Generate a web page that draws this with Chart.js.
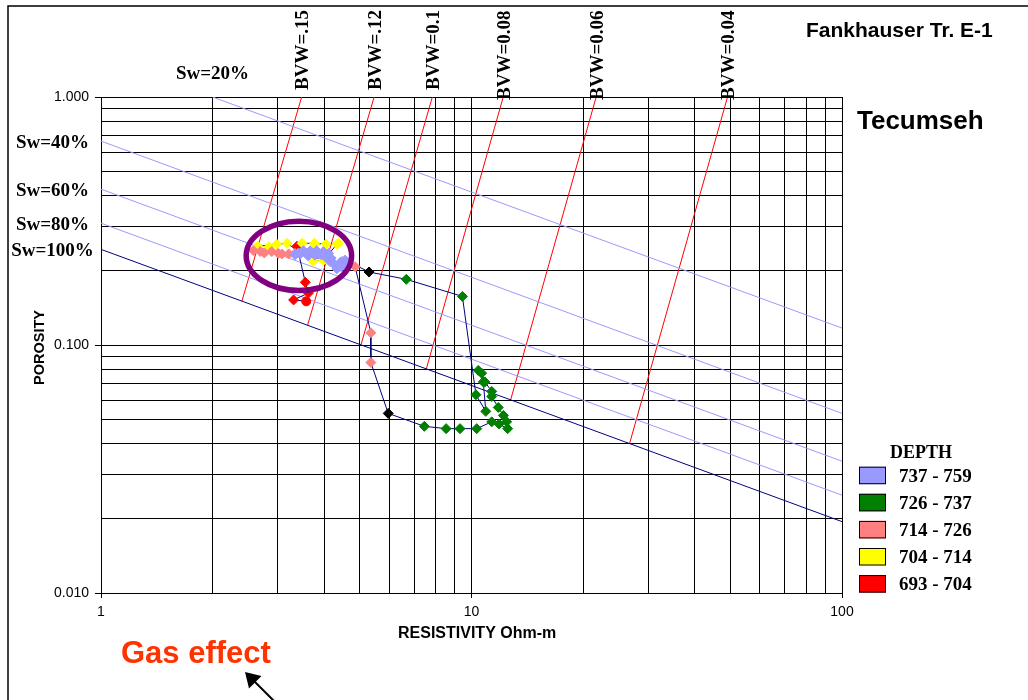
<!DOCTYPE html>
<html>
<head>
<meta charset="utf-8">
<script src="https://cdn.jsdelivr.net/npm/chart.js@4"></script>
<style>
  body { margin: 0; background: #ffffff; }
  #wrap { width: 1028px; height: 700px; position: relative; }
</style>
</head>
<body>
<div id="wrap"><canvas id="pickett" width="1028" height="700"></canvas></div>
<script>
// depth intervals (resistivity Ohm-m, porosity)
const redR = [3.38, 3.56, 3.63, 3.31, 3.58];
const redPhi = [0.250, 0.179, 0.162, 0.152, 0.150];
const redShapes = ['rectRot', 'rectRot', 'rectRot', 'rectRot', 'circle'];

const yellowR = [2.65, 2.84, 2.98, 3.18, 3.49, 3.77, 4.05, 4.33, 4.37, 3.74, 3.98, 4.01];
const yellowPhi = [0.250, 0.249, 0.255, 0.257, 0.257, 0.257, 0.255, 0.255, 0.257, 0.217, 0.220, 0.221];

const pinkR = [2.58, 2.69, 2.76, 2.89, 3.01, 3.08, 3.21, 3.34, 4.85, 5.35, 5.35];
const pinkPhi = [0.240, 0.238, 0.235, 0.238, 0.234, 0.233, 0.233, 0.234, 0.207, 0.112, 0.085];

const lavR = [3.34, 3.41, 3.45, 3.52, 3.59, 3.67, 3.71, 3.82, 3.86, 3.98, 4.03, 4.11, 4.15, 4.18, 4.24, 4.29, 4.42, 4.47, 4.56,
  4.33, 4.45, 4.62, 3.62, 3.78, 3.93];
const lavPhi = [0.231, 0.235, 0.233, 0.240, 0.234, 0.240, 0.235, 0.240, 0.233, 0.238, 0.227, 0.234, 0.217, 0.224, 0.213, 0.210, 0.215, 0.217, 0.220,
  0.203, 0.207, 0.214, 0.229, 0.230, 0.231];

const greenR = [6.67, 9.45, 10.43, 10.65, 10.76, 10.87, 11.34, 10.28, 11.34, 11.81, 10.93, 12.19, 11.34, 11.87, 12.44, 12.52, 10.33, 9.31, 8.54, 7.46];
const greenPhi = [0.184, 0.157, 0.079, 0.077, 0.071, 0.071, 0.065, 0.063, 0.062, 0.056, 0.054, 0.052, 0.049, 0.048, 0.049, 0.046, 0.046, 0.046, 0.046, 0.047];

const blackR = [5.29, 5.96];
const blackPhi = [0.197, 0.053];

// depth track joining the points
const trackR = [3.58, 3.31, 3.63, 3.56, 3.38, 3.49, 3.77, 4.05, 4.33, 4.01, 3.74, 3.18, 2.98, 2.65,
  2.58, 2.76, 3.01, 3.34, 4.85, 5.35, 5.35, 5.96, 7.46, 8.54, 9.31, 10.33, 11.34, 11.87, 12.52,
  12.44, 12.19, 11.81, 11.34, 11.34, 10.87, 10.65, 10.43, 10.76, 10.93, 10.28, 9.45, 6.67, 5.29,
  4.56, 4.47, 4.29, 4.03, 3.45, 3.34];
const trackPhi = [0.150, 0.152, 0.162, 0.179, 0.250, 0.257, 0.257, 0.255, 0.255, 0.221, 0.217, 0.257, 0.255, 0.250,
  0.240, 0.235, 0.234, 0.234, 0.207, 0.112, 0.085, 0.053, 0.047, 0.046, 0.046, 0.046, 0.049, 0.048, 0.046,
  0.049, 0.052, 0.056, 0.062, 0.065, 0.071, 0.077, 0.079, 0.071, 0.054, 0.063, 0.157, 0.184, 0.197,
  0.220, 0.217, 0.210, 0.227, 0.233, 0.231];

// water saturation lines
const swLabels = ['Sw=20%', 'Sw=40%', 'Sw=60%', 'Sw=80%', 'Sw=100%'];
const swStartR = [2.0, 1, 1, 1, 1];
const swStartPhi = [1, 0.664, 0.425, 0.310, 0.243];
const swEndR = [100, 100, 100, 100, 100];
const swEndPhi = [0.117, 0.053, 0.034, 0.0248, 0.0194];

// bulk volume water lines
const bvwLabels = ['BVW=.15', 'BVW=.12', 'BVW=0.1', 'BVW=0.08', 'BVW=0.06', 'BVW=0.04'];
const bvwValues = [0.15, 0.12, 0.10, 0.08, 0.06, 0.04];
const bvwBaseR = [2.40, 3.61, 5.03, 7.55, 12.75, 26.7];
const bvwTopR = [3.48, 5.46, 7.84, 12.18, 21.7, 49.1];

// gas effect ring (resistivity / porosity bounds)
const ringR = [2.465, 4.747];
const ringPhi = [0.1658, 0.3158];

const xTicks = [1, 2, 3, 4, 5, 6, 7, 8, 9, 10, 20, 30, 40, 50, 60, 70, 80, 90, 100];
const xLabelled = [1, 10, 100];
const yTicks = [0.01, 0.02, 0.03, 0.04, 0.05, 0.06, 0.07, 0.08, 0.09, 0.1, 0.2, 0.3, 0.4, 0.5, 0.6, 0.7, 0.8, 0.9, 1];
const yLabelled = [0.01, 0.1, 1];

const legendLabels = ['737 - 759', '726 - 737', '714 - 726', '704 - 714', '693 - 704'];
const legendColors = ['#9999ff', '#008000', '#ff8080', '#ffff00', '#ff0000'];

const SANS = '"Liberation Sans", Arial, sans-serif';
const SERIF = '"Liberation Serif", "Times New Roman", serif';

function pts(xs, ys) {
  return xs.map((x, i) => ({ x: x, y: ys[i] }));
}

function markers(label, xs, ys, color, shapes) {
  return {
    label: label,
    data: pts(xs, ys),
    backgroundColor: color,
    borderColor: color,
    borderWidth: 1,
    pointStyle: shapes || 'rectRot',
    pointRadius: shapes ? shapes.map(s => s === 'circle' ? 4.5 : 5) : 5,
    showLine: false,
    order: 1
  };
}

function segment(x0, y0, x1, y1, color) {
  return {
    data: [{ x: x0, y: y0 }, { x: x1, y: y1 }],
    borderColor: color,
    borderWidth: 1,
    pointRadius: 0,
    showLine: true,
    order: 20
  };
}

const datasets = [];
swLabels.forEach((l, i) => {
  datasets.push(segment(swStartR[i], swStartPhi[i], swEndR[i], swEndPhi[i],
    i === swLabels.length - 1 ? '#000080' : '#9999ff'));
});
bvwValues.forEach((v, i) => {
  datasets.push(segment(bvwBaseR[i], v, bvwTopR[i], 1, '#ff0000'));
});
datasets.push({
  data: pts(trackR, trackPhi),
  borderColor: '#000080',
  borderWidth: 1,
  pointRadius: 0,
  showLine: true,
  order: 10
});
datasets.push(markers('737 - 759', lavR, lavPhi, '#9999ff'));
datasets.push(markers('714 - 726', pinkR, pinkPhi, '#ff8080'));
datasets.push(markers('704 - 714', yellowR, yellowPhi, '#ffff00'));
datasets.push(markers('693 - 704', redR, redPhi, '#ff0000', redShapes));
datasets.push(markers('726 - 737', greenR, greenPhi, '#008000'));
datasets.push(markers('', blackR, blackPhi, '#000000'));

const decorations = {
  id: 'decorations',
  afterDatasetsDraw(chart) {
    const ctx = chart.ctx;
    const xs = chart.scales.x, ys = chart.scales.y;

    // gas effect ring
    const l = xs.getPixelForValue(ringR[0]), r = xs.getPixelForValue(ringR[1]);
    const t = ys.getPixelForValue(ringPhi[1]), b = ys.getPixelForValue(ringPhi[0]);
    ctx.save();
    ctx.strokeStyle = '#800080';
    ctx.lineWidth = 5.5;
    ctx.beginPath();
    ctx.ellipse((l + r) / 2, (t + b) / 2, (r - l) / 2, (b - t) / 2, 0, 0, Math.PI * 2);
    ctx.stroke();
    ctx.restore();
  },
  afterDraw(chart) {
    const ctx = chart.ctx;
    const xs = chart.scales.x, ys = chart.scales.y;
    ctx.save();

    // frame
    ctx.strokeStyle = '#000';
    ctx.lineWidth = 1.5;
    ctx.beginPath();
    ctx.moveTo(8, 702);
    ctx.lineTo(8, 6);
    ctx.lineTo(1030, 6);
    ctx.stroke();

    ctx.fillStyle = '#000';
    ctx.textBaseline = 'middle';
    ctx.textAlign = 'left';
    ctx.font = 'bold 21px ' + SANS;
    ctx.fillText('Fankhauser Tr. E-1', 806, 31);
    ctx.font = 'bold 26px ' + SANS;
    ctx.fillText('Tecumseh', 857, 122);

    // Sw labels
    ctx.font = 'bold 19px ' + SERIF;
    ctx.textAlign = 'center';
    swLabels.forEach((s, i) => {
      if (swStartR[i] > 1) {
        ctx.fillText(s, xs.getPixelForValue(swStartR[i]), ys.top - 23);
      } else {
        ctx.fillText(s, 52.5, ys.getPixelForValue(swStartPhi[i]) + 1.5);
      }
    });

    // BVW labels
    ctx.textAlign = 'left';
    bvwLabels.forEach((s, i) => {
      const cx = xs.getPixelForValue(bvwTopR[i]) + 1.5;
      const by = i < 3 ? ys.top - 7 : ys.top + 3;
      ctx.save();
      ctx.translate(cx, by);
      ctx.rotate(-Math.PI / 2);
      ctx.fillText(s, 0, 0);
      ctx.restore();
    });

    // axis titles
    ctx.font = 'bold 16px ' + SANS;
    ctx.textAlign = 'left';
    ctx.fillText('RESISTIVITY Ohm-m', 398, 634);
    ctx.save();
    ctx.translate(40, 347.5);
    ctx.rotate(-Math.PI / 2);
    ctx.textAlign = 'center';
    ctx.font = 'bold 14.5px ' + SANS;
    ctx.fillText('POROSITY', 0, 0);
    ctx.restore();

    // legend
    ctx.font = 'bold 18px ' + SERIF;
    ctx.textAlign = 'center';
    ctx.fillText('DEPTH', 921, 453);
    ctx.textAlign = 'left';
    legendLabels.forEach((s, i) => {
      const y = 466.7 + i * 27.1;
      ctx.fillStyle = legendColors[i];
      ctx.fillRect(859, y, 27, 17.5);
      ctx.strokeStyle = '#000';
      ctx.lineWidth = 1;
      ctx.strokeRect(859.5, y + 0.5, 26, 16.5);
      ctx.fillStyle = '#000';
      ctx.font = 'bold 19px ' + SERIF;
      ctx.fillText(s, 899, y + 10);
    });

    // gas effect note
    ctx.fillStyle = '#ff3300';
    ctx.font = 'bold 31px ' + SANS;
    ctx.textBaseline = 'alphabetic';
    ctx.fillText('Gas effect', 121, 663);

    // arrow
    ctx.strokeStyle = '#000';
    ctx.fillStyle = '#000';
    ctx.lineWidth = 2;
    ctx.beginPath();
    ctx.moveTo(252, 679);
    ctx.lineTo(282, 709);
    ctx.stroke();
    ctx.beginPath();
    ctx.moveTo(245, 672);
    ctx.lineTo(261.5, 676);
    ctx.lineTo(249, 688.5);
    ctx.closePath();
    ctx.fill();

    ctx.restore();
  }
};

function tickColor(list) {
  return c => (c.tick && list.includes(c.tick.value)) ? '#000000' : 'rgba(0,0,0,0)';
}

new Chart(document.getElementById('pickett').getContext('2d'), {
  type: 'scatter',
  data: { datasets: datasets },
  options: {
    responsive: false,
    animation: false,
    layout: { padding: { top: 97, right: 186, left: 0, bottom: 0 } },
    plugins: { legend: { display: false }, tooltip: { enabled: false } },
    scales: {
      x: {
        type: 'logarithmic',
        min: 1,
        max: 100,
        afterBuildTicks: s => { s.ticks = xTicks.map(v => ({ value: v })); },
        afterFit: s => { s.height = 107; },
        ticks: {
          autoSkip: false,
          maxRotation: 0,
          padding: 6,
          color: '#000',
          font: { family: SANS, size: 14 },
          callback: v => xLabelled.includes(v) ? String(v) : ''
        },
        grid: { color: '#000', lineWidth: 1, tickLength: 5, tickColor: tickColor(xLabelled) },
        border: { color: '#000', width: 1 }
      },
      y: {
        type: 'logarithmic',
        min: 0.01,
        max: 1,
        afterBuildTicks: s => { s.ticks = yTicks.map(v => ({ value: v })); },
        afterFit: s => { s.width = 101; },
        ticks: {
          autoSkip: false,
          padding: 6,
          color: '#000',
          font: { family: SANS, size: 14 },
          callback: v => yLabelled.includes(v) ? v.toFixed(3) : ''
        },
        grid: { color: '#000', lineWidth: 1, tickLength: 6, tickColor: tickColor(yLabelled) },
        border: { color: '#000', width: 1 }
      }
    }
  },
  plugins: [decorations]
});
</script>
</body>
</html>
